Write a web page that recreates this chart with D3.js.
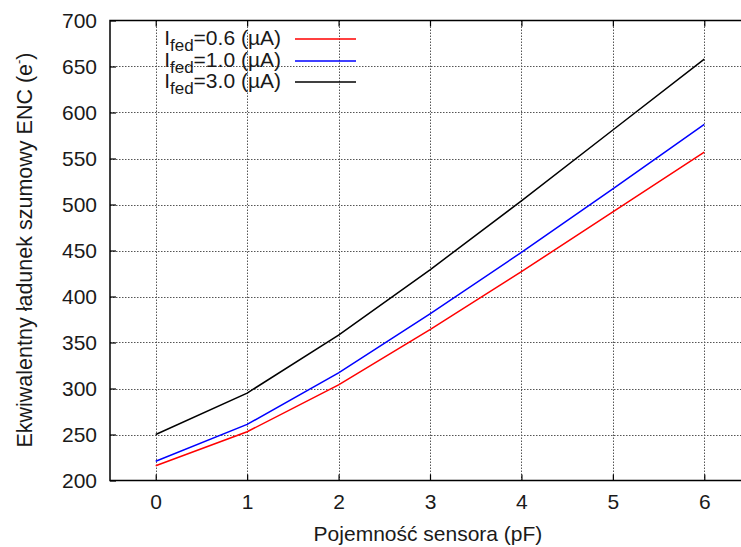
<!DOCTYPE html>
<html>
<head>
<meta charset="utf-8">
<script src="https://cdn.jsdelivr.net/npm/d3@7"></script>
<style>
  body { margin: 0; background: #fff; }
  svg text { font-family: "Liberation Sans", Arial, sans-serif; fill: #1a1a1a; }
</style>
</head>
<body>
<svg id="chart" width="741" height="547"></svg>
<script>
const capacitance = [0, 1, 2, 3, 4, 5, 6];
const enc06 = [216, 253, 304, 364, 427, 492, 557];
const enc10 = [221, 261, 317, 381, 448, 517, 587];
const enc30 = [250, 295, 358, 429, 504, 581, 658];
const seriesNames = ['0.6', '1.0', '3.0'];
const seriesColors = ['#ff0000', '#0000ff', '#000000'];
const xTicks = [0, 1, 2, 3, 4, 5, 6];
const yTicks = [200, 250, 300, 350, 400, 450, 500, 550, 600, 650, 700];

const series = [enc06, enc10, enc30];
const FS = '21px';

const svg = d3.select('#chart');
const x = d3.scaleLinear().domain([-0.5, 6.5]).range([110, 750]);
const y = d3.scaleLinear().domain([200, 700]).range([480.5, 20.5]);

// grid
const grid = svg.append('g')
    .attr('stroke', '#555').attr('stroke-width', 1)
    .attr('stroke-dasharray', '1.5,1.5');
grid.selectAll('line.gx').data(xTicks).join('line')
    .attr('x1', d => Math.round(x(d)) + 0.5).attr('x2', d => Math.round(x(d)) + 0.5)
    .attr('y1', y(700)).attr('y2', y(200));
grid.selectAll('line.gy').data(yTicks.slice(1, -1)).join('line')
    .attr('x1', x(-0.5)).attr('x2', 741)
    .attr('y1', d => Math.round(y(d)) + 0.5).attr('y2', d => Math.round(y(d)) + 0.5);

// axes
const xAxisB = d3.axisBottom(x).tickValues(xTicks).tickSize(-6).tickPadding(14).tickFormat(d3.format('d'));
const xAxisT = d3.axisTop(x).tickValues(xTicks).tickSize(-6).tickFormat('');
const yAxisL = d3.axisLeft(y).tickValues(yTicks).tickSize(-6).tickPadding(13);

function styleAxis(g) {
    g.select('.domain').remove();
    g.selectAll('.tick line').attr('stroke', '#000').attr('stroke-width', 1.2);
    g.selectAll('.tick text').attr('font-size', FS).attr('fill', '#1a1a1a');
}
svg.append('g').attr('transform', `translate(0,${y(200)})`).call(xAxisB).call(styleAxis);
svg.append('g').attr('transform', `translate(0,${y(700)})`).call(xAxisT).call(styleAxis);
svg.append('g').attr('transform', `translate(${x(-0.5)},0)`).call(yAxisL).call(styleAxis);

// frame (right side is cut off by the window)
svg.append('path')
    .attr('d', `M741,${y(700)}H${x(-0.5)}V${y(200)}H741`)
    .attr('fill', 'none').attr('stroke', '#000').attr('stroke-width', 1.5);

// lines
const line = d3.line().x((d, i) => x(capacitance[i])).y(d => y(d));
svg.append('g').selectAll('path').data(series).join('path')
    .attr('d', line)
    .attr('fill', 'none')
    .attr('stroke', (d, i) => seriesColors[i])
    .attr('stroke-width', 1.5);

// legend
const legendY = [39, 61, 82];
const leg = svg.append('g');
seriesNames.forEach((name, i) => {
    const t = leg.append('text')
        .attr('x', 281).attr('y', legendY[i] + 6)
        .attr('text-anchor', 'end').attr('font-size', FS);
    t.append('tspan').text('I');
    t.append('tspan').attr('font-size', '17px').attr('dy', 6).text('fed');
    t.append('tspan').attr('dy', -6).text(`=${name} (µA)`);
    leg.append('line')
        .attr('x1', 295).attr('x2', 356)
        .attr('y1', legendY[i]).attr('y2', legendY[i])
        .attr('stroke', seriesColors[i]).attr('stroke-width', 1.5);
});

// axis titles
svg.append('text')
    .attr('x', 428).attr('y', 541)
    .attr('text-anchor', 'middle').attr('font-size', FS)
    .text('Pojemność sensora (pF)');

const yt = svg.append('text')
    .attr('transform', 'translate(32,250) rotate(-90)')
    .attr('text-anchor', 'middle').attr('font-size', '21.5px');
yt.append('tspan').text('Ekwiwalentny ładunek szumowy ENC (e');
yt.append('tspan').attr('font-size', '13px').attr('dy', -9).text('-');
yt.append('tspan').attr('dy', 9).text(')');
</script>
</body>
</html>
